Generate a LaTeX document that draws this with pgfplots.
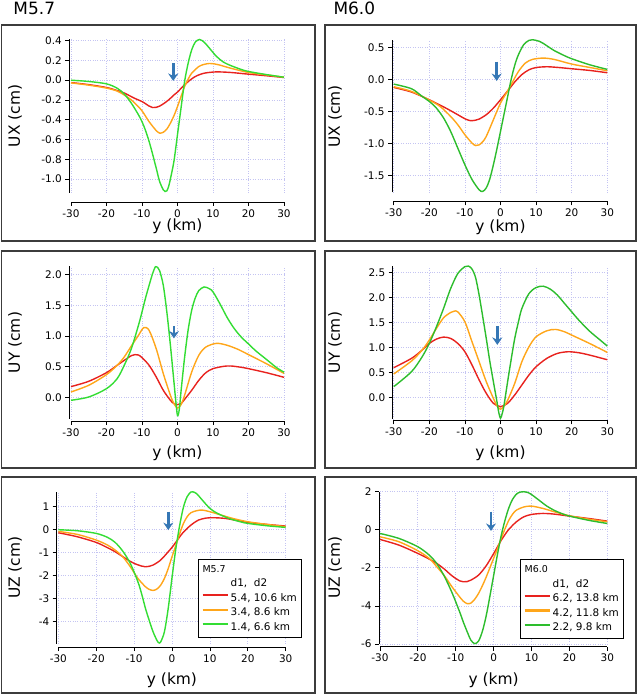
\documentclass[border=0pt]{standalone}
\usepackage{pgfplots}
\pgfplotsset{compat=1.18}
\usepackage{fontspec}
\setmainfont{DejaVu Sans}
\usetikzlibrary{arrows.meta}
\definecolor{cred}{HTML}{E8221E}
\definecolor{corange}{HTML}{FFA61A}
\definecolor{cgreenA}{HTML}{33DD33}
\definecolor{cgreenB}{HTML}{2DBD2D}
\definecolor{carrow}{HTML}{3577B5}
\definecolor{gridc}{HTML}{C4C4F2}
\definecolor{framec}{HTML}{3C3C3C}
\pgfplotsset{
  panel/.style={
    scale only axis, anchor=south west,
    xmin=-30, xmax=30, xtick={-30,-20,...,30},
    axis x line*=bottom, axis y line*=left,
    axis line style={black, line width=0.8bp},
    tick align=outside, major tick length=4bp,
    tick style={black, line width=0.8bp},
    grid=major, grid style={dotted, color=gridc, line width=0.8bp},
    ticklabel style={font=\fontsize{10.5}{12}\selectfont},
    /pgf/number format/assume math mode=true,
    xlabel={y (km)},
    clip=false,
    legend cell align=left,
  },
  xlab/.style={every axis x label/.style={at={(rel axis cs:0.5,0)}, anchor=center, yshift=-#1, font=\fontsize{15.5}{18}\selectfont}},
  ylab/.style={every axis y label/.style={at={(axis description cs:-#1,0.5)}, rotate=90, anchor=center, font=\fontsize{15.5}{18}\selectfont}},
  onedec/.style={yticklabel style={/pgf/number format/.cd, fixed, fixed zerofill, precision=1}},
  cr/.style={cred, line width=1.4bp, smooth, tension=0.5},
  co/.style={corange, line width=1.4bp, smooth, tension=0.5},
  cgA/.style={cgreenA, line width=1.4bp, smooth, tension=0.5},
  cgB/.style={cgreenB, line width=1.4bp, smooth, tension=0.5},
  arr/.style={carrow, line width=2.6bp, -{Stealth[width=10bp,length=7.5bp,inset=2.5bp]}, forget plot},
  leg/.style={
    legend style={at={(rel axis cs:#1)}, anchor=south east, draw=black, line width=1bp, fill=white,
      font=\fontsize{10.5}{12}\selectfont, inner xsep=3bp, inner ysep=3bp, row sep=0pt,
      nodes={inner ysep=2bp, inner xsep=2bp, text height=8bp, text depth=2.5bp}},
    legend image code/.code={\draw[##1, line width=2.2bp, line cap=butt] (0bp,3.3bp) -- (12.5bp,3.3bp) -- (25bp,3.3bp);},
  },
}
\begin{document}
\begin{tikzpicture}
\path[use as bounding box] (0,0) rectangle (639bp,695bp);
% frames
\draw[framec, line width=1.6bp] (1.5bp,454bp) rectangle (315bp,670bp);
\draw[framec, line width=1.6bp] (325bp,454bp) rectangle (636bp,670bp);
\draw[framec, line width=1.6bp] (1.5bp,227bp) rectangle (315bp,444bp);
\draw[framec, line width=1.6bp] (325bp,227bp) rectangle (636bp,444bp);
\draw[framec, line width=1.6bp] (1.5bp,2bp) rectangle (315bp,218bp);
\draw[framec, line width=1.6bp] (325bp,2bp) rectangle (636bp,218bp);
% titles
\node[anchor=base west, inner sep=0pt, font=\fontsize{17}{20}\selectfont] at (13.3bp,680bp) {M5.7};
\node[anchor=base west, inner sep=0pt, font=\fontsize{17}{20}\selectfont] at (333.3bp,680bp) {M6.0};

% ---------- P1: UX M5.7
\begin{axis}[panel, at={(71bp,502.2bp)}, width=213bp, height=153.5bp,
  ymin=-1.14, ymax=0.414, ytick={-1.0,-0.8,...,0.41}, onedec,
  axis x line shift=9.2bp, axis y line shift=1.7bp,
  ylabel={UX (cm)}, xlab=33.5bp, ylab=0.263]
\addplot[cr] coordinates {(-30,-0.024) (-25,-0.045) (-20,-0.074) (-17,-0.105) (-15,-0.13) (-12,-0.185) (-10,-0.216) (-8,-0.262) (-7,-0.277) (-6,-0.275) (-5,-0.262) (-4,-0.24) (-2.5,-0.2) (-1,-0.15) (0,-0.12) (1,-0.083) (2,-0.047) (3.5,0) (5,0.037) (6.5,0.06) (8,0.074) (11,0.084) (15,0.078) (20,0.061) (25,0.045) (30,0.027)};
\addplot[co] coordinates {(-30,-0.027) (-25,-0.05) (-20,-0.08) (-17,-0.11) (-15,-0.15) (-13,-0.2) (-12,-0.233) (-10,-0.31) (-8,-0.42) (-6,-0.51) (-5,-0.536) (-4,-0.527) (-3,-0.495) (-2,-0.435) (-1,-0.36) (0,-0.267) (1,-0.165) (2,-0.064) (3,0.01) (4,0.071) (6,0.138) (7.5,0.16) (9,0.169) (10.5,0.164) (12,0.152) (15,0.121) (20,0.078) (25,0.054) (30,0.03)};
\addplot[cgA] coordinates {(-30,0.0) (-25,-0.013) (-20,-0.037) (-17,-0.081) (-15,-0.14) (-13,-0.233) (-11,-0.35) (-10,-0.42) (-9,-0.51) (-8,-0.62) (-7,-0.75) (-6,-0.89) (-5,-1.03) (-4,-1.11) (-3.5,-1.127) (-3,-1.12) (-2.5,-1.076) (-2,-1.0) (-1,-0.82) (0,-0.55) (1,-0.28) (2,-0.013) (3,0.172) (4,0.307) (5,0.385) (6.2,0.412) (7.5,0.385) (9,0.324) (11,0.24) (13,0.182) (15,0.148) (18,0.108) (20,0.088) (25,0.057) (30,0.03)};
\addplot[arr] coordinates {(-1.2,0.171) (-1.2,-0.008)};
\end{axis}

% ---------- P2: UX M6.0
\begin{axis}[panel, at={(393.7bp,502.6bp)}, width=213.6bp, height=152.4bp,
  ymin=-1.76, ymax=0.614, ytick={-1.5,-1.0,...,0.51}, onedec,
  axis x line shift=8.9bp, axis y line shift=1.7bp,
  ylabel={UX (cm)}, xlab=34.5bp, ylab=0.275]
\addplot[cr] coordinates {(-30,-0.125) (-25,-0.197) (-20,-0.317) (-17,-0.4) (-15,-0.457) (-12,-0.55) (-10,-0.613) (-8.5,-0.642) (-7,-0.635) (-6,-0.618) (-4,-0.55) (-2,-0.447) (0,-0.317) (2,-0.18) (3,-0.11) (4,-0.04) (6,0.075) (8,0.15) (10,0.185) (13,0.197) (16,0.187) (20,0.166) (25,0.14) (30,0.104)};
\addplot[co] coordinates {(-30,-0.114) (-25,-0.187) (-20,-0.322) (-17,-0.42) (-14,-0.577) (-12,-0.706) (-10,-0.862) (-8,-0.992) (-7,-1.03) (-6,-1.02) (-5,-0.97) (-4,-0.888) (-2,-0.628) (0,-0.369) (2,-0.18) (3,-0.08) (5,0.12) (7,0.255) (9,0.312) (12,0.332) (15,0.312) (20,0.239) (25,0.187) (30,0.135)};
\addplot[cgB] coordinates {(-30,-0.073) (-25,-0.145) (-22,-0.265) (-20,-0.343) (-18,-0.447) (-16,-0.6) (-14,-0.81) (-12,-1.07) (-10,-1.33) (-8,-1.56) (-6,-1.72) (-5,-1.745) (-4,-1.69) (-3,-1.55) (-2,-1.33) (-1,-1.08) (0,-0.81) (1,-0.54) (2,-0.27) (3,0.0) (4,0.22) (5,0.38) (6.5,0.54) (8,0.608) (9,0.618) (11,0.592) (13,0.525) (15,0.452) (18,0.369) (20,0.322) (25,0.229) (30,0.156)};
\addplot[arr] coordinates {(-1.07,0.276) (-1.07,-0.025)};
\end{axis}

% ---------- P3: UY M5.7
\begin{axis}[panel, at={(71bp,276bp)}, width=213bp, height=152.9bp,
  ymin=-0.354, ymax=2.14, ytick={0,0.5,...,2.01}, onedec,
  axis x line shift=2bp, axis y line shift=1.7bp,
  ylabel={UY (cm)}, xlab=34.3bp, ylab=0.263]
\addplot[cr] coordinates {(-30,0.174) (-25,0.261) (-20,0.402) (-17,0.522) (-15,0.603) (-13,0.679) (-12,0.696) (-11,0.69) (-10,0.647) (-8,0.522) (-6,0.332) (-4,0.114) (-2,-0.049) (-1,-0.103) (0,-0.12) (1,-0.103) (2,-0.033) (4,0.114) (6,0.277) (8,0.402) (10,0.467) (13,0.505) (15,0.511) (18,0.489) (20,0.467) (25,0.402) (30,0.326)};
\addplot[co] coordinates {(-30,0.087) (-25,0.196) (-20,0.37) (-17,0.522) (-15,0.658) (-13,0.837) (-11,1.01) (-9.5,1.136) (-8,1.092) (-6,0.793) (-4,0.386) (-2,0.033) (-1,-0.103) (0,-0.174) (1,-0.12) (2,0.033) (4,0.413) (6,0.685) (8,0.82) (11,0.88) (14,0.848) (17,0.783) (20,0.696) (25,0.549) (30,0.39)};
\addplot[cgA] coordinates {(-30,-0.049) (-25,0.005) (-20,0.141) (-17,0.304) (-15,0.522) (-13,0.793) (-11,1.174) (-10,1.39) (-9,1.62) (-8,1.826) (-7,2.02) (-6.2,2.13) (-5.5,2.11) (-5,2.06) (-4,1.826) (-3,1.39) (-2,0.85) (-1,0.25) (-0.5,-0.05) (0,-0.3) (0.5,-0.2) (1,0.1) (2,0.65) (3,1.1) (4,1.42) (5,1.62) (6,1.74) (7.5,1.8) (9,1.77) (10,1.72) (12,1.52) (14,1.3) (16,1.12) (18,0.98) (20,0.87) (22,0.76) (25,0.62) (28,0.48) (30,0.41)};
\addplot[arr] coordinates {(-1.0,1.163) (-1.0,0.96)};
\end{axis}

% ---------- P4: UY M6.0
\begin{axis}[panel, at={(393.7bp,276bp)}, width=213.6bp, height=152.9bp,
  ymin=-0.435, ymax=2.63, ytick={0,0.5,...,2.51}, onedec,
  axis x line shift=1.3bp, axis y line shift=1.0bp,
  ylabel={UY (cm)}, xlab=34.3bp, ylab=0.275]
\addplot[cr] coordinates {(-30,0.593) (-25,0.78) (-22,0.947) (-20,1.08) (-18,1.167) (-16,1.207) (-14,1.18) (-12,1.08) (-10,0.913) (-8,0.647) (-6,0.347) (-4,0.08) (-2,-0.12) (0,-0.187) (2,-0.12) (4,0.047) (6,0.247) (8,0.447) (10,0.613) (13,0.78) (16,0.88) (19,0.913) (22,0.893) (25,0.847) (30,0.753)};
\addplot[co] coordinates {(-30,0.467) (-25,0.727) (-22,0.947) (-20,1.147) (-18,1.38) (-16,1.593) (-14,1.70) (-13,1.727) (-12,1.713) (-10,1.513) (-8,1.113) (-6,0.713) (-4,0.313) (-2,-0.02) (-1,-0.17) (0,-0.24) (1,-0.17) (2,-0.06) (4,0.28) (6,0.713) (8,1.013) (10,1.213) (13,1.333) (15.5,1.36) (18,1.313) (20,1.247) (25,1.08) (30,0.9)};
\addplot[cgB] coordinates {(-30,0.213) (-25,0.513) (-22,0.813) (-20,1.08) (-18,1.413) (-16,1.78) (-14,2.18) (-12,2.48) (-10,2.62) (-9,2.63) (-8,2.57) (-7,2.4) (-6,2.047) (-5,1.62) (-4,1.18) (-3,0.72) (-2,0.313) (-1,-0.087) (-0.5,-0.3) (0,-0.42) (0.5,-0.32) (1,-0.153) (2,0.313) (3,0.76) (4,1.18) (5,1.5) (6,1.78) (8,2.08) (10,2.2) (12,2.227) (14,2.167) (16,2.047) (18,1.88) (20,1.713) (22,1.547) (25,1.327) (28,1.147) (30,1.027)};
\addplot[arr] coordinates {(-0.9,1.43) (-0.9,1.05)};
\end{axis}

% ---------- P5: UZ M5.7
\begin{axis}[panel, at={(58.3bp,51.4bp)}, width=227.4bp, height=151.8bp,
  ymin=-4.95, ymax=1.63, ytick={-4,-3,...,1},
  axis x line shift=3.4bp, axis y line shift=1.6bp,
  ylabel={UZ (cm)}, xlab=36.4bp, ylab=0.1904, leg={1.073,0.035}]
\addlegendimage{empty legend}\addlegendentry{\hspace{-30bp}\fontsize{9.5}{11}\selectfont M5.7}
\addlegendimage{empty legend}\addlegendentry{d1,\ \ d2}
\addplot[cr] coordinates {(-30,-0.145) (-25,-0.318) (-20,-0.564) (-17,-0.795) (-15,-0.968) (-12,-1.286) (-10,-1.474) (-8,-1.59) (-7,-1.62) (-6,-1.6) (-5,-1.546) (-3,-1.33) (-1,-0.97) (0,-0.78) (1,-0.56) (2,-0.33) (3,-0.12) (5,0.188) (7,0.405) (9,0.491) (11,0.506) (14,0.477) (17,0.39) (20,0.303) (25,0.217) (30,0.145)};
\addlegendentry{5.4, 10.6 km}
\addplot[co] coordinates {(-30,-0.087) (-25,-0.217) (-20,-0.462) (-17,-0.68) (-15,-0.896) (-13,-1.185) (-11,-1.618) (-9,-2.124) (-7,-2.486) (-6,-2.6) (-5,-2.645) (-4,-2.587) (-3,-2.42) (-2,-2.124) (-1,-1.7) (0,-1.185) (1,-0.7) (2,-0.2) (3,0.25) (4,0.55) (5,0.723) (6.5,0.81) (8,0.838) (10,0.766) (13,0.621) (16,0.477) (20,0.332) (25,0.217) (30,0.116)};
\addlegendentry{3.4, 8.6 km}
\addplot[cgA] coordinates {(-30,-0.014) (-25,-0.058) (-20,-0.173) (-17,-0.347) (-15,-0.564) (-13,-0.939) (-11,-1.474) (-9,-2.269) (-8,-2.8) (-7,-3.425) (-6,-3.95) (-5,-4.436) (-4,-4.8) (-3.5,-4.913) (-3,-4.88) (-2,-4.436) (-1,-3.425) (0,-2.1) (1,-0.85) (2,0.15) (3,0.95) (4,1.42) (5,1.62) (5.5,1.63) (6.5,1.55) (8,1.27) (10,0.91) (12,0.694) (15,0.477) (18,0.332) (20,0.26) (25,0.159) (30,0.087)};
\addlegendentry{1.4, 6.6 km}
\addplot[arr] coordinates {(-0.98,0.767) (-0.98,-0.03)};
\end{axis}

% ---------- P6: UZ M6.0
\begin{axis}[panel, at={(380bp,51bp)}, width=227.3bp, height=152.3bp,
  ymin=-6.0, ymax=2.0, ytick={-6,-4,...,2},
  axis x line shift=2.7bp, axis y line shift=1.0bp,
  ylabel={UZ (cm)}, xlab=36bp, ylab=0.198, leg={1.075,0.033}]
\addlegendimage{empty legend}\addlegendentry{\hspace{-30bp}\fontsize{9.5}{11}\selectfont M6.0}
\addlegendimage{empty legend}\addlegendentry{d1,\ \ d2}
\addplot[cr] coordinates {(-30,-0.508) (-25,-0.806) (-20,-1.243) (-17,-1.541) (-15,-1.769) (-13,-2.067) (-11,-2.417) (-9,-2.68) (-8,-2.732) (-7,-2.72) (-6,-2.644) (-4,-2.382) (-2,-1.9) (0,-1.25) (1,-0.9) (2,-0.55) (3,-0.25) (4,0.02) (6,0.42) (8,0.683) (10,0.806) (13,0.858) (16,0.823) (20,0.718) (25,0.595) (30,0.455)};
\addlegendentry{6.2, 13.8 km}
\addplot[co] coordinates {(-30,-0.368) (-25,-0.63) (-20,-1.103) (-17,-1.506) (-15,-1.944) (-13,-2.417) (-11,-2.995) (-9,-3.52) (-8,-3.75) (-7,-3.88) (-6,-3.85) (-5,-3.65) (-4,-3.35) (-3,-2.95) (-2,-2.5) (-1,-2.0) (0,-1.5) (1,-1.0) (2,-0.45) (3,0.05) (4,0.5) (5,0.82) (6,1.03) (8,1.2) (10,1.243) (13,1.121) (16,0.946) (20,0.736) (25,0.56) (30,0.42)};
\addlegendentry{4.2, 11.8 km}
\addplot[cgB] coordinates {(-30,-0.193) (-25,-0.455) (-20,-0.893) (-17,-1.331) (-15,-1.78) (-13,-2.45) (-11,-3.3) (-9,-4.3) (-8,-4.85) (-7,-5.35) (-6,-5.8) (-5,-5.98) (-4,-5.85) (-3,-5.35) (-2,-4.55) (-1,-3.5) (0,-2.4) (1,-1.3) (2,-0.3) (3,0.5) (4,1.15) (5,1.6) (6,1.87) (7,1.98) (8,2.0) (9,1.96) (10,1.85) (12,1.55) (14,1.25) (16,1.02) (18,0.85) (20,0.72) (25,0.5) (30,0.33)};
\addlegendentry{2.2, 9.8 km}
\addplot[arr] coordinates {(-0.7,0.95) (-0.7,-0.06)};
\end{axis}
\end{tikzpicture}
\end{document}
